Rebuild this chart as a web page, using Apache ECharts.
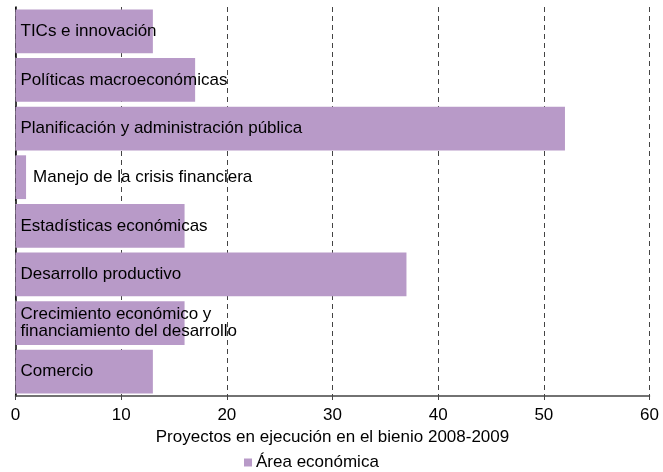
<!DOCTYPE html>
<html><head><meta charset="utf-8">
<script src="https://cdn.jsdelivr.net/npm/echarts@6/dist/echarts.min.js"></script>
<style>html,body{margin:0;padding:0;background:#fff}#c{width:663px;height:472px}</style>
</head><body><div id="c"></div>
<script>
const categories = ["TICs e innovación","Políticas macroeconómicas","Planificación y administración pública","Manejo de la crisis financiera","Estadísticas económicas","Desarrollo productivo","Crecimiento económico y\nfinanciamiento del desarrollo","Comercio"];
const values = [13,17,52,1,16,37,16,13];
const xTicks = [0,10,20,30,40,50,60];
const seriesName = "Área económica";
const axisTitle = "Proyectos en ejecución en el bienio 2008-2009";

const chart = echarts.init(document.getElementById('c'));
const font = "'Liberation Sans', Arial, sans-serif";
chart.setOption({
  animation:false,
  textStyle:{fontFamily:font},
  grid:{left:15.5,right:13.5,top:7,bottom:76,containLabel:false},
  legend:{top:454,left:244,padding:0,itemWidth:8,itemHeight:8,itemGap:4,icon:'rect',
    textStyle:{fontSize:17,color:'#000',fontFamily:font,padding:[0,0,0,-1]},data:[seriesName]},
  xAxis:{type:'value',min:xTicks[0],max:xTicks[xTicks.length-1],interval:10,
    name:axisTitle,nameLocation:'middle',nameGap:32,
    nameTextStyle:{fontSize:17,color:'#000',fontFamily:font},
    axisLine:{show:true,lineStyle:{color:'#444',width:1.5}},
    axisTick:{show:true,length:4,lineStyle:{color:'#444'}},
    axisLabel:{fontSize:17,color:'#000',margin:11,fontFamily:font},
    splitLine:{show:true,lineStyle:{type:[5,4],color:'#444',width:1}}},
  yAxis:{type:'category',data:categories,inverse:true,
    axisLine:{show:true,lineStyle:{color:'#000',width:1.5}},
    axisTick:{show:false},axisLabel:{show:false},splitLine:{show:false}},
  series:[{name:seriesName,type:'bar',barCategoryGap:'10%',
    itemStyle:{color:'#b89ac8'},
    data:values.map((v,i)=>({value:v,label:v<3?{position:'right',distance:7}:{}})),
    label:{show:true,position:'insideLeft',distance:5,color:'#000',fontSize:17,lineHeight:17,
      fontFamily:font,formatter:p=>categories[p.dataIndex]}}]
});
</script></body></html>
